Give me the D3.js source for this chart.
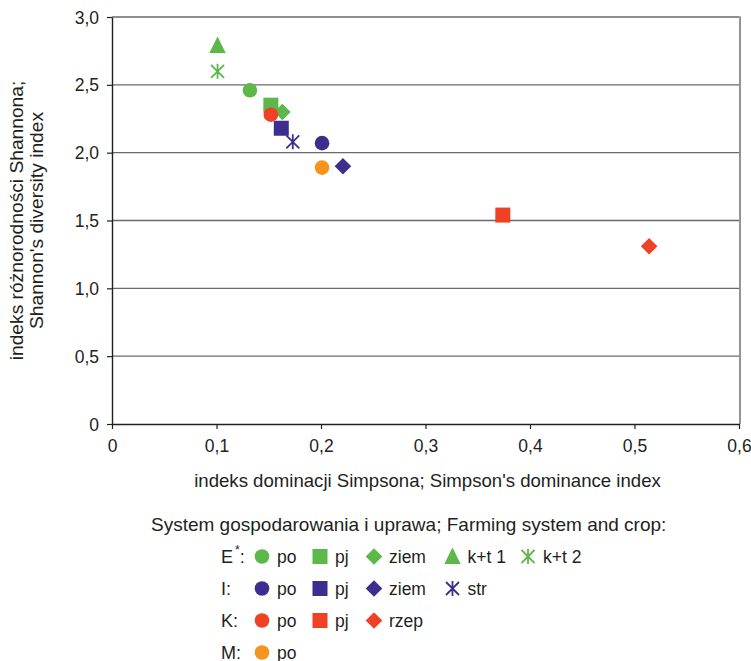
<!DOCTYPE html>
<html>
<head>
<meta charset="utf-8">
<script src="https://cdn.jsdelivr.net/npm/d3@7"></script>
<style>
  html, body { margin: 0; padding: 0; background: #fff; }
  svg text { font-family: "Liberation Sans", Arial, sans-serif; fill: #231f20; }
</style>
</head>
<body>
<svg id="chart" width="751" height="661"></svg>
<script>
// Simpson's dominance index (x) and Shannon's diversity index (y) per farming system and crop
const cropsE = ["po", "pj", "ziem", "k+t 1", "k+t 2"];
const simpsonE = [0.132, 0.152, 0.163, 0.101, 0.101];
const shannonE = [2.46, 2.35, 2.30, 2.79, 2.60];

const cropsI = ["po", "pj", "ziem", "str"];
const simpsonI = [0.201, 0.162, 0.221, 0.173];
const shannonI = [2.07, 2.18, 1.90, 2.08];

const cropsK = ["po", "pj", "rzep"];
const simpsonK = [0.152, 0.374, 0.514];
const shannonK = [2.28, 1.54, 1.31];

const cropsM = ["po"];
const simpsonM = [0.201];
const shannonM = [1.89];

const xTicks = [0, 0.1, 0.2, 0.3, 0.4, 0.5, 0.6];
const yTicks = [0, 0.5, 1.0, 1.5, 2.0, 2.5, 3.0];

const systems = [
  { label: "E", color: "#5cb848", crops: cropsE, xs: simpsonE, ys: shannonE },
  { label: "I", color: "#3c2e8f", crops: cropsI, xs: simpsonI, ys: shannonI },
  { label: "K", color: "#ef4123", crops: cropsK, xs: simpsonK, ys: shannonK },
  { label: "M", color: "#f7941d", crops: cropsM, xs: simpsonM, ys: shannonM }
];

// marker shape for each crop
const shapeOf = {
  "po": "circle", "pj": "square", "ziem": "diamond", "rzep": "diamond",
  "k+t 1": "triangle", "k+t 2": "asterisk", "str": "asterisk"
};

const fmt = v => v === 0 ? "0" : d3.format(".1f")(v).replace(".", ",");

const svg = d3.select("#chart");
const plotLeft = 112, plotRight = 739, plotTop = 17, plotBottom = 424;

const x = d3.scaleLinear().domain([0, 0.6]).range([plotLeft, plotRight]);
const y = d3.scaleLinear().domain([0, 3]).range([plotBottom, plotTop]);

// horizontal gridlines
svg.append("g")
  .selectAll("line")
  .data(yTicks.filter(v => v > 0))
  .join("line")
  .attr("x1", plotLeft).attr("x2", plotRight)
  .attr("y1", d => y(d)).attr("y2", d => y(d))
  .attr("stroke", "#6a6a6a").attr("stroke-width", 1.4);

// right frame line
svg.append("line")
  .attr("x1", plotRight + 1).attr("x2", plotRight + 1)
  .attr("y1", y(3) - 0.7).attr("y2", plotBottom)
  .attr("stroke", "#7a7a7a").attr("stroke-width", 1.6);

// axes
const xAxis = svg.append("g")
  .attr("transform", `translate(0,${plotBottom})`)
  .call(d3.axisBottom(x).tickValues(xTicks).tickFormat(fmt).tickSize(5).tickSizeOuter(0));
const yAxis = svg.append("g")
  .attr("transform", `translate(${plotLeft},0)`)
  .call(d3.axisLeft(y).tickValues(yTicks).tickFormat(fmt).tickSize(5).tickSizeOuter(0));

[xAxis, yAxis].forEach(g => {
  g.select(".domain").attr("stroke", "#231f20").attr("stroke-width", 1.4);
  g.selectAll(".tick line").attr("stroke", "#231f20").attr("stroke-width", 1.2);
  g.selectAll(".tick text")
    .attr("font-size", 17.5)
    .attr("font-family", "Liberation Sans, Arial, sans-serif")
    .attr("fill", "#231f20");
});
xAxis.selectAll(".tick text").attr("dy", null).attr("y", 28);
yAxis.selectAll(".tick text").attr("dy", "0.35em").attr("x", -13);

// axis titles
svg.append("text")
  .attr("x", (plotLeft + plotRight) / 2 + 2).attr("y", 487)
  .attr("text-anchor", "middle").attr("font-size", 18.6)
  .text("indeks dominacji Simpsona; Simpson's dominance index");

const yTitle = svg.append("text")
  .attr("transform", `translate(0,${(plotTop + plotBottom) / 2}) rotate(-90)`)
  .attr("text-anchor", "middle").attr("font-size", 19.2);
yTitle.append("tspan").attr("x", 0).attr("y", 23).text("indeks różnorodności Shannona;");
yTitle.append("tspan").attr("x", 0).attr("y", 43).text("Shannon's diversity index");

// marker drawing
function drawMarker(g, shape, color, cx, cy) {
  const s = g.append("g").attr("transform", `translate(${cx},${cy})`);
  if (shape === "circle") {
    s.append("circle").attr("r", 7.3).attr("fill", color);
  } else if (shape === "square") {
    s.append("rect").attr("x", -7.5).attr("y", -7.5).attr("width", 15).attr("height", 15).attr("fill", color);
  } else if (shape === "diamond") {
    s.append("path").attr("d", "M0,-8.3L8.3,0L0,8.3L-8.3,0Z").attr("fill", color);
  } else if (shape === "triangle") {
    s.append("path").attr("d", "M0,-9L8.2,7.5L-8.2,7.5Z").attr("fill", color);
  } else if (shape === "asterisk") {
    s.append("path")
      .attr("d", "M0,-7.5L0,7.5M-6.5,-6.5L6.5,6.5M6.5,-6.5L-6.5,6.5")
      .attr("stroke", color).attr("stroke-width", 1.8).attr("fill", "none");
  }
}

// points
const pts = svg.append("g");
systems.forEach(sys => {
  sys.crops.forEach((c, i) => {
    drawMarker(pts, shapeOf[c], sys.color, x(sys.xs[i]), y(sys.ys[i]));
  });
});

// legend
svg.append("text")
  .attr("x", 151).attr("y", 530.5).attr("font-size", 19)
  .text("System gospodarowania i uprawa; Farming system and crop:");

const rowY = [556.5, 588.5, 620.5, 652.5];
const colX = [262, 320, 374, 452.5, 528];
const leg = svg.append("g");
systems.forEach((sys, r) => {
  const ry = rowY[r];
  const lab = leg.append("text").attr("x", 221).attr("y", ry + 6).attr("font-size", 18);
  if (sys.label === "E") {
    lab.append("tspan").text("E");
    lab.append("tspan").attr("dx", 2).attr("dy", -9).attr("font-size", 12).text("*");
    lab.append("tspan").attr("dy", 9).text(":");
  } else {
    lab.text(sys.label + ":");
  }
  sys.crops.forEach((c, i) => {
    drawMarker(leg, shapeOf[c], sys.color, colX[i], ry);
    leg.append("text").attr("x", colX[i] + 15).attr("y", ry + 6)
      .attr("font-size", 17.5).text(c);
  });
});
</script>
</body>
</html>
